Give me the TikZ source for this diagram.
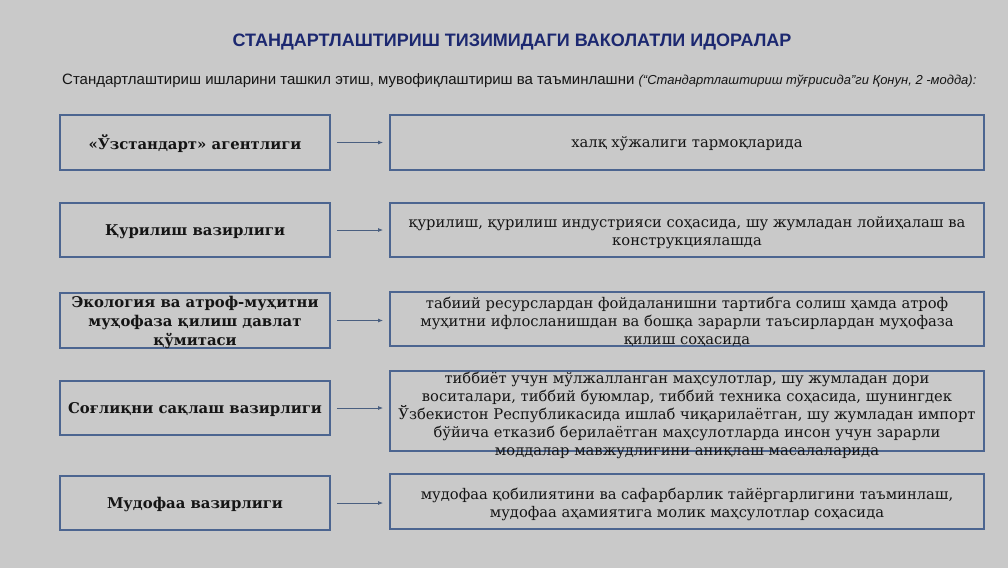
\documentclass[tikz,border=0pt]{standalone}
\usepackage{fontspec}
\setmainfont{DejaVu Serif}
\newfontfamily\sansf{Liberation Sans}
\usetikzlibrary{arrows.meta}
\definecolor{bg}{HTML}{C9C9C9}
\definecolor{frame}{HTML}{4C6590}
\definecolor{navy}{HTML}{1C2870}
\definecolor{arr}{HTML}{4A5F80}
\definecolor{ink}{HTML}{151515}
\tikzset{
  lbox/.style={draw=frame, line width=1.9pt, fill=bg, minimum width=270pt, minimum height=54pt, inner sep=0pt},
  rbox/.style={draw=frame, line width=1.9pt, fill=bg, minimum width=594pt, minimum height=54pt, inner sep=0pt},
  ltxt/.style={font=\fontsize{14.85}{19}\selectfont\bfseries, text=ink, align=center, inner sep=0pt},
  rtxt/.style={font=\fontsize{14.7}{18}\selectfont, text=ink, align=center, inner sep=0pt},
  conn/.style={draw=arr, line width=0.8pt, -{Latex[length=5pt,width=4pt]}, shorten <=6pt, shorten >=6pt}
}
\begin{document}
\begin{tikzpicture}[x=1pt,y=-1pt]
\fill[bg] (0,0) rectangle (1008,568);
\useasboundingbox (0,0) rectangle (1008,568);

\node[font=\sansf\bfseries\fontsize{18}{20}\selectfont, text=navy] (title) at (512,42.5) {СТАНДАРТЛАШТИРИШ ТИЗИМИДАГИ ВАКОЛАТЛИ ИДОРАЛАР};
\node[anchor=west, text=ink, inner sep=0pt] (sub) at (62,81) {\sansf\fontsize{15}{17}\selectfont Стандартлаштириш ишларини ташкил этиш, мувофиқлаштириш ва таъминлашни \fontsize{13}{14}\selectfont\itshape (“Стандартлаштириш тўғрисида”ги Қонун, 2 -модда):};

% left boxes
\node[lbox, minimum height=55pt] (l1) at (195,142.5) {};
\node[lbox] (l2) at (195,230) {};
\node[lbox, minimum height=55pt] (l3) at (195,320.5) {};
\node[lbox] (l4) at (195,408) {};
\node[lbox] (l5) at (195,503) {};

\node[ltxt] at (195,144) {«Ўзстандарт» агентлиги};
\node[ltxt] at (195,231.5) {Қурилиш вазирлиги};
\node[ltxt] at (195,322.5) {Экология ва атроф-муҳитни\\муҳофаза қилиш давлат\\қўмитаси};
\node[ltxt] at (195,409.5) {Соғлиқни сақлаш вазирлиги};
\node[ltxt] at (195,504.5) {Мудофаа вазирлиги};

% right boxes
\node[rbox, minimum height=55pt] (r1) at (687,142.5) {};
\node[rbox] (r2) at (687,230) {};
\node[rbox] (r3) at (687,319) {};
\node[rbox, minimum height=80pt] (r4) at (687,411) {};
\node[rbox, minimum height=55pt] (r5) at (687,501.5) {};

\node[rtxt] at (687,144) {халқ хўжалиги тармоқларида};
\node[rtxt] at (687,232.5) {қурилиш, қурилиш индустрияси соҳасида, шу жумладан лойиҳалаш ва\\конструкциялашда};
\node[rtxt] at (687,321.5) {табиий ресурслардан фойдаланишни тартибга солиш ҳамда атроф\\муҳитни ифлосланишдан ва бошқа зарарли таъсирлардан муҳофаза\\қилиш соҳасида};
\node[rtxt] at (687,415) {тиббиёт учун мўлжалланган маҳсулотлар, шу жумладан дори\\воситалари, тиббий буюмлар, тиббий техника соҳасида, шунингдек\\Ўзбекистон Республикасида ишлаб чиқарилаётган, шу жумладан импорт\\бўйича етказиб берилаётган маҳсулотларда инсон учун зарарли\\моддалар мавжудлигини аниқлаш масалаларида};
\node[rtxt] at (687,504.5) {мудофаа қобилиятини ва сафарбарлик тайёргарлигини таъминлаш,\\мудофаа аҳамиятига молик маҳсулотлар соҳасида};

% connectors
\foreach \i in {1,...,5}{
  \draw[conn] (l\i.east) -- (l\i.east -| r\i.west);
}
\end{tikzpicture}
\end{document}
